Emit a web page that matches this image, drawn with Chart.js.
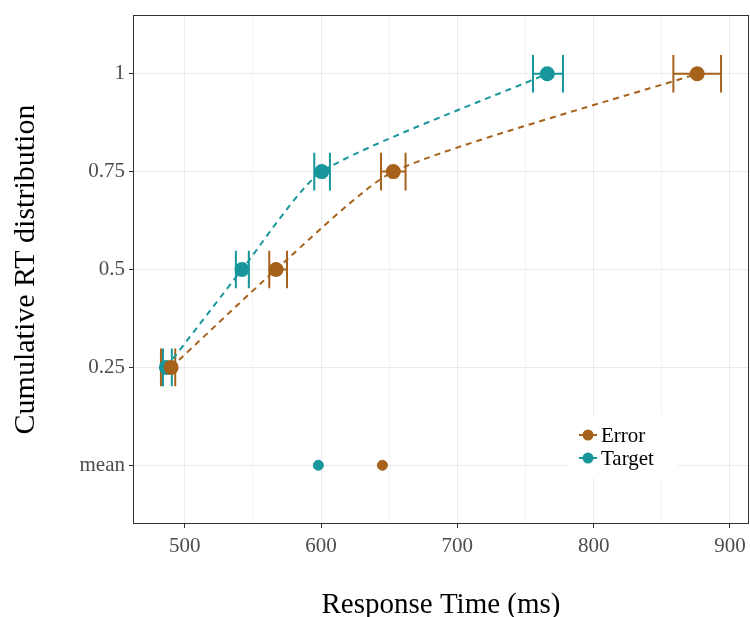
<!DOCTYPE html>
<html>
<head>
<meta charset="utf-8">
<script src="https://cdn.jsdelivr.net/npm/chart.js@4/dist/chart.umd.min.js"></script>
<style>
  html, body { margin: 0; padding: 0; background: #fff; overflow: hidden; }
  #wrap { width: 750px; height: 617px; }
  canvas { display: block; }
</style>
</head>
<body>
<div id="wrap"><canvas id="rtChart" width="750" height="617"></canvas></div>
<script>
// quantile levels (y) and response times (x)
const quantiles = [0.25, 0.5, 0.75, 1];
const errorRT = [490, 567, 653, 876];
const errorLo = [482.5, 562, 644, 858.5];
const errorHi = [493, 575, 662, 893.5];
const targetRT = [486.5, 542, 600.5, 766];
const targetLo = [484, 537.5, 595, 755.5];
const targetHi = [490.5, 547, 606.5, 777.5];
const meanError = 645;
const meanTarget = 598;
const meanLevel = 0;

const xTickValues = [500, 550, 600, 650, 700, 750, 800, 850, 900];
const yTickValues = [0, 0.25, 0.5, 0.75, 1];
const yTickLabels = ['mean', '0.25', '0.5', '0.75', '1'];

const brown = '#A6611A';
const teal = '#17979C';
const serif = "'Liberation Serif', 'Times New Roman', serif";

const series = [
    { label: 'Error', color: brown, rt: errorRT, lo: errorLo, hi: errorHi },
    { label: 'Target', color: teal, rt: targetRT, lo: targetLo, hi: targetHi }
];

// horizontal error bars with vertical end caps
const errorBars = {
    id: 'errorBars',
    beforeDatasetsDraw(chart) {
        const ctx = chart.ctx;
        const xs = chart.scales.x, ys = chart.scales.y;
        const capHalf = 0.048;
        ctx.save();
        ctx.lineWidth = 2;
        series.forEach(s => {
            ctx.strokeStyle = s.color;
            quantiles.forEach((q, i) => {
                const x0 = xs.getPixelForValue(s.lo[i]);
                const x1 = xs.getPixelForValue(s.hi[i]);
                const y = ys.getPixelForValue(q);
                const yt = ys.getPixelForValue(q + capHalf);
                const yb = ys.getPixelForValue(q - capHalf);
                ctx.beginPath();
                ctx.moveTo(x0, y); ctx.lineTo(x1, y);
                ctx.moveTo(x0, yt); ctx.lineTo(x0, yb);
                ctx.moveTo(x1, yt); ctx.lineTo(x1, yb);
                ctx.stroke();
            });
        });
        ctx.restore();
    },
    afterDraw(chart) {
        const ctx = chart.ctx;
        const a = chart.chartArea;
        ctx.save();
        // panel border
        ctx.strokeStyle = '#333333';
        ctx.lineWidth = 1;
        ctx.strokeRect(a.left + 0.5, a.top + 0.5, a.right - a.left - 1, a.bottom - a.top - 1);
        // legend inside the panel
        const lx = 588, ly = 435, gap = 23;
        ctx.fillStyle = '#ffffff';
        ctx.fillRect(lx - 20, ly - 20, 110, gap + 40);
        ctx.font = '21px ' + serif;
        ctx.textBaseline = 'middle';
        series.forEach((s, i) => {
            const y = ly + i * gap;
            ctx.strokeStyle = s.color;
            ctx.lineWidth = 2;
            ctx.beginPath();
            ctx.moveTo(lx - 9, y); ctx.lineTo(lx + 9, y);
            ctx.stroke();
            ctx.fillStyle = s.color;
            ctx.beginPath();
            ctx.arc(lx, y, 5.5, 0, Math.PI * 2);
            ctx.fill();
            ctx.fillStyle = '#000000';
            ctx.fillText(s.label, lx + 13, y + 1);
        });
        ctx.restore();
    }
};

const ctx = document.getElementById('rtChart').getContext('2d');
const rtChart = new Chart(ctx, {
    type: 'scatter',
    data: {
        datasets: [
            ...series.map(s => ({
                label: s.label,
                data: quantiles.map((q, i) => ({ x: s.rt[i], y: q })),
                showLine: true,
                borderColor: s.color,
                backgroundColor: s.color,
                borderWidth: 2,
                borderDash: [6, 5],
                tension: 0.2,
                pointRadius: 6.5,
                pointHoverRadius: 6.5
            })),
            {
                label: 'Error mean',
                data: [{ x: meanError, y: meanLevel }],
                backgroundColor: brown,
                borderColor: brown,
                pointRadius: 5
            },
            {
                label: 'Target mean',
                data: [{ x: meanTarget, y: meanLevel }],
                backgroundColor: teal,
                borderColor: teal,
                pointRadius: 5
            }
        ]
    },
    options: {
        responsive: false,
        maintainAspectRatio: false,
        animation: false,
        layout: { autoPadding: false, padding: { top: 15, right: 1, left: 0, bottom: 0 } },
        plugins: {
            legend: { display: false },
            tooltip: { enabled: false }
        },
        scales: {
            x: {
                min: 462,
                max: 914,
                afterBuildTicks: s => { s.ticks = xTickValues.map(v => ({ value: v })); },
                ticks: {
                    color: '#4d4d4d',
                    font: { family: serif, size: 21 },
                    padding: 6,
                    maxRotation: 0,
                    autoSkip: false,
                    callback: v => (v % 100 === 0 ? String(v) : '')
                },
                grid: {
                    color: ctx => (ctx.tick && ctx.tick.value % 100 === 0 ? '#ebebeb' : '#f4f4f4'),
                    tickColor: ctx => (ctx.tick && ctx.tick.value % 100 === 0 ? '#333333' : 'rgba(0,0,0,0)'),
                    tickLength: 4
                },
                border: { display: false },
                title: {
                    display: true,
                    text: 'Response Time (ms)',
                    color: '#000000',
                    font: { family: serif, size: 29 },
                    padding: { top: 29, bottom: -6 }
                },
                afterFit: s => { s.height = 93; s.paddingLeft = 0; s.paddingRight = 0; }
            },
            y: {
                min: -0.15,
                max: 1.15,
                afterBuildTicks: s => { s.ticks = yTickValues.map(v => ({ value: v })); },
                ticks: {
                    color: '#4d4d4d',
                    font: { family: serif, size: 21 },
                    padding: 4,
                    callback: v => yTickLabels[yTickValues.indexOf(v)]
                },
                grid: {
                    color: '#ebebeb',
                    tickColor: '#333333',
                    tickLength: 4
                },
                border: { display: false },
                title: {
                    display: true,
                    text: 'Cumulative RT distribution',
                    color: '#000000',
                    font: { family: serif, size: 30 },
                    padding: { top: 8, bottom: 0 }
                },
                afterFit: s => { s.width = 133; s.paddingTop = 0; s.paddingBottom = 0; }
            }
        }
    },
    plugins: [errorBars]
});
</script>
</body>
</html>
